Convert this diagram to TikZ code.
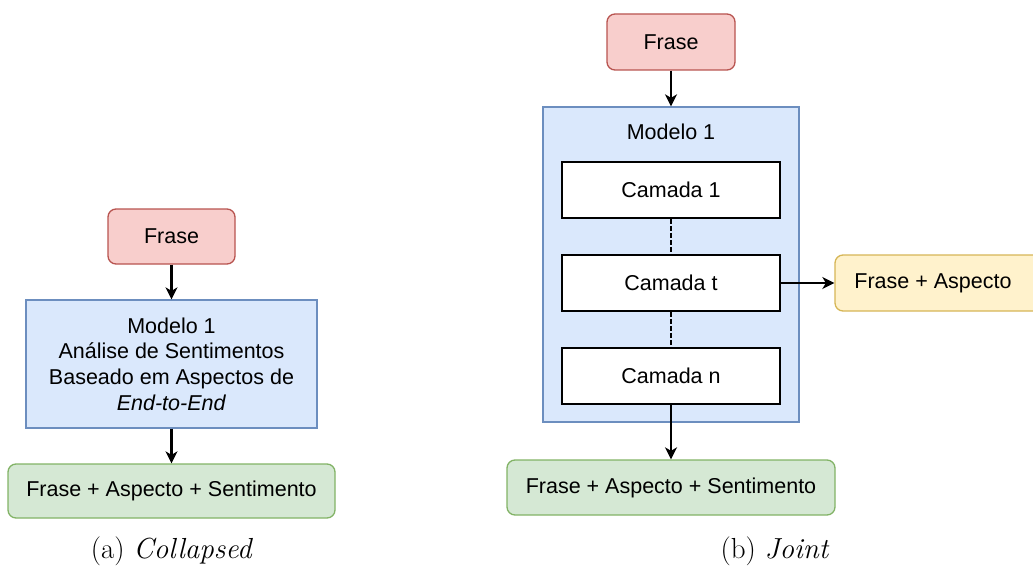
\documentclass[tikz,border=0pt]{standalone}
\usepackage{fontspec}
\setsansfont{Liberation Sans}
\usetikzlibrary{arrows.meta}
\definecolor{redfill}{HTML}{F8CECC}
\definecolor{redline}{HTML}{B85450}
\definecolor{bluefill}{HTML}{DAE8FC}
\definecolor{blueline}{HTML}{6C8EBF}
\definecolor{greenfill}{HTML}{D5E8D4}
\definecolor{greenline}{HTML}{82B366}
\definecolor{yellowfill}{HTML}{FFF2CC}
\definecolor{yellowline}{HTML}{D6B656}
\tikzset{
  box/.style={draw, line width=1.3pt, inner sep=0pt, align=center,
    font=\sffamily\fontsize{21.5}{25.7}\selectfont},
  redbox/.style={box, fill=redfill, draw=redline, rounded corners=8pt},
  greenbox/.style={box, fill=greenfill, draw=greenline, rounded corners=8pt},
  yellowbox/.style={box, fill=yellowfill, draw=yellowline, rounded corners=8pt},
  bluebox/.style={box, fill=bluefill, draw=blueline},
  layerbox/.style={box, fill=white, draw=black, line width=1.6pt},
  arr/.style={line width=2.2pt, -{Stealth[length=12pt,width=12pt,inset=3.5pt]}},
  dashline/.style={line width=1.8pt, dash pattern=on 5pt off 2pt},
  caption/.style={font=\fontsize{29}{33}\selectfont, inner sep=0pt}
}
\begin{document}
\begin{tikzpicture}[x=1pt,y=-1pt]
\useasboundingbox (0,0) rectangle (1033,567);
\clip (0,0) rectangle (1033,567);
% (a) Collapsed
\node[redbox, minimum width=127pt, minimum height=55pt] (fa) at (171.5,236.5) {Frase};
\node[bluebox, minimum width=291pt, minimum height=128pt] (ma) at (171.5,364)
  {Modelo 1\\An\'alise de Sentimentos\\Baseado em Aspectos de\\\textit{End-to-End}};
\node[greenbox, minimum width=327pt, minimum height=54pt] (ga) at (171.5,491) {Frase + Aspecto + Sentimento};
\draw[arr] (fa.south) -- (ma.north);
\draw[arr] (ma.south) -- (ga.north);
\node[caption] (ca) at (172,551) {(a) \textit{Collapsed}};
% (b) Joint
\node[redbox, minimum width=128pt, minimum height=56pt] (fb) at (671,42) {Frase};
\node[bluebox, minimum width=256pt, minimum height=315pt] (mb) at (671,264.5) {};
\node[box, draw=none] (mlab) at (671,132) {Modelo 1};
\node[layerbox, minimum width=218pt, minimum height=56pt] (c1) at (671,190) {Camada 1};
\node[layerbox, minimum width=218pt, minimum height=56pt] (ct) at (671,283) {Camada t};
\node[layerbox, minimum width=218pt, minimum height=56pt] (cn) at (671,376) {Camada n};
\node[yellowbox, minimum width=215pt, minimum height=56pt] (yb) at (942.5,283) {};
\node[box, draw=none] (ybt) at (933,283) {Frase + Aspecto};
\node[greenbox, minimum width=328pt, minimum height=55pt] (gb) at (671,487.5) {Frase + Aspecto + Sentimento};
\draw[arr] (fb.south) -- (mb.north);
\draw[dashline] (c1.south) -- (ct.north);
\draw[dashline] (ct.south) -- (cn.north);
\draw[arr] (ct.east) -- (yb.west);
\draw[arr] (cn.south) -- (gb.north);
\node[caption] (cb) at (775,551) {(b) \textit{Joint}};
\end{tikzpicture}
\end{document}
